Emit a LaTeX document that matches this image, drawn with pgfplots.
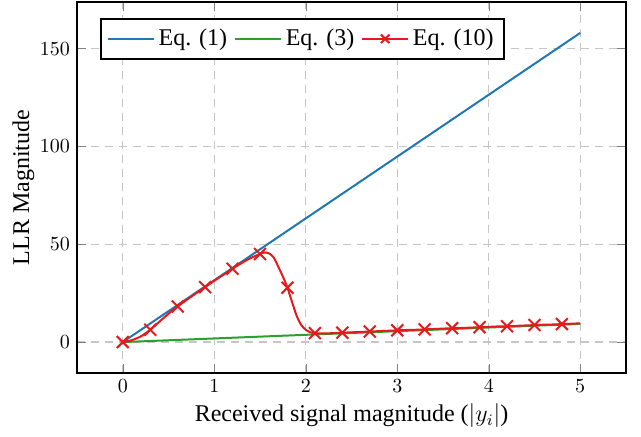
\documentclass[border=0pt]{standalone}
\usepackage{fontspec}
\setmainfont{Liberation Serif}
\usepackage{pgfplots}
\pgfplotsset{compat=1.18}
\definecolor{cblue}{RGB}{31,119,180}
\definecolor{cgreen}{RGB}{44,160,44}
\definecolor{cred}{RGB}{228,26,28}

\begin{document}
\begin{tikzpicture}
\begin{axis}[
  width=274.5pt,height=185.5pt,scale only axis,
  enlargelimits=0.1,
  xtick={0,1,2,3,4,5},
  ytick={0,50,100,150},
  grid=major,
  major grid style={dash pattern=on 4pt off 3pt,gray!45,line width=0.6pt},
  axis line style={line width=1pt},
  xlabel={Received signal magnitude ($|y_i|$)},
  ylabel={LLR Magnitude},
  label style={font=\fontsize{12}{14}\selectfont},
  tick label style={font=\normalsize},
  xlabel style={yshift=1.5pt},
  ylabel style={yshift=-4pt},
  legend columns=3,
  legend image code/.code={\draw[#1,mark indices={2},mark size=3pt]
    plot coordinates {(0cm,0cm) (0.4cm,0cm) (0.8cm,0cm)};},
  legend style={at={(0.042,0.957)},anchor=north west,line width=1pt,
    font=\fontsize{12}{14}\selectfont,inner xsep=3pt,inner ysep=3pt,
    /tikz/every even column/.append style={column sep=1.5pt}},
  legend cell align=left]
\addplot[cblue,line width=1pt] coordinates {(0,0) (5,158)};
\addlegendentry{Eq. (1)}
\addplot[cgreen,line width=1pt] coordinates {(0,0) (5,9.3)};
\addlegendentry{Eq. (3)}
\addplot[cred,line width=1pt,smooth,mark=x,mark size=4.2pt,
  mark options={line width=1pt},
  mark indices={1,4,7,10,13,16,22,28,31,34,37,40,43,46,49,52,55}] coordinates {
  (0,0) (0.1,1.0) (0.2,3.0) (0.3,6.3) (0.4,10.4) (0.5,14.5) (0.6,18.2)
  (0.7,21.6) (0.8,24.9) (0.9,28.1) (1.0,31.3) (1.1,34.4) (1.2,37.5)
  (1.3,40.4) (1.4,43.0) (1.5,45.0) (1.55,45.8) (1.6,45.3) (1.65,43.2)
  (1.7,38.5) (1.75,33.5) (1.8,27.8) (1.85,20.5) (1.9,13.5) (1.95,8.8)
  (2.0,6.3) (2.05,5.0) (2.1,4.6) (2.2,4.4) (2.3,4.6) (2.4,4.8) (2.5,5.0)
  (2.6,5.2) (2.7,5.4) (2.8,5.6) (2.9,5.8) (3.0,6.0) (3.1,6.2) (3.2,6.3)
  (3.3,6.5) (3.4,6.7) (3.5,6.9) (3.6,7.1) (3.7,7.2) (3.8,7.4) (3.9,7.6)
  (4.0,7.8) (4.1,8.0) (4.2,8.1) (4.3,8.3) (4.4,8.5) (4.5,8.7) (4.6,8.9)
  (4.7,9.0) (4.8,9.2) (4.9,9.4) (5.0,9.6)};
\addlegendentry{Eq. (10)}
\end{axis}
\path ([shift={(-38.5pt,-31.5pt)}]current axis.south west)
      ([shift={(7.5pt,1pt)}]current axis.north east);
\end{tikzpicture}
\end{document}
